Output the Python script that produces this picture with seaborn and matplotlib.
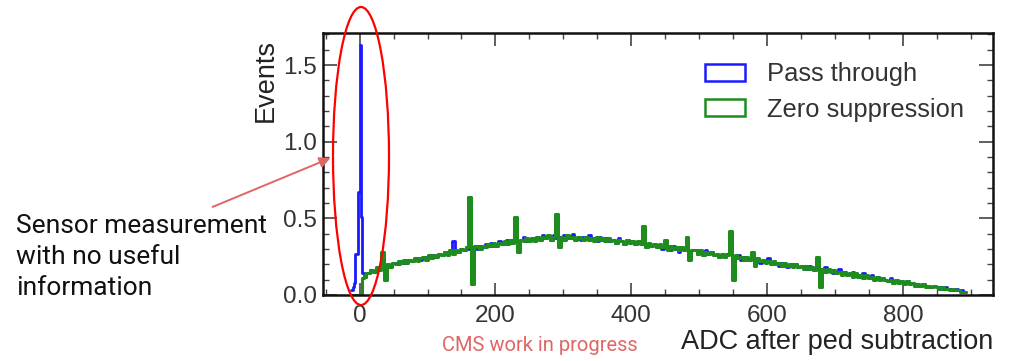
import numpy as np
import pandas as pd
import seaborn as sns
import matplotlib.pyplot as plt
from matplotlib.patches import Ellipse, Patch
from matplotlib.ticker import MultipleLocator

# bin edges in ADC: fine bins around the pedestal, then 4-ADC bins
edges_fine = np.arange(-12, 12, 2)
edges_wide = np.arange(12, 893, 4)

# events per bin
pass_fine = [0.03, 0.05, 0.08, 0.27, 0.27, 0.67, 1.63, 0.51, 0.14, 0.13, 0.12, 0.14]
zs_fine = [0, 0, 0, 0, 0, 0, 0, 0, 0.11, 0.13, 0.12, 0.14]

pass_wide = [
    0.14, 0.16, 0.15, 0.17, 0.18, 0.17, 0.19, 0.20, 0.19, 0.21,
    0.21, 0.20, 0.22, 0.21, 0.22, 0.23, 0.22, 0.23, 0.24, 0.23,
    0.24, 0.25, 0.24, 0.26, 0.25, 0.26, 0.27, 0.26, 0.28, 0.27,
    0.28, 0.35, 0.29, 0.28, 0.30, 0.29, 0.31, 0.30, 0.31, 0.32,
    0.30, 0.32, 0.31, 0.33, 0.32, 0.34, 0.32, 0.33, 0.35, 0.33,
    0.34, 0.36, 0.34, 0.35, 0.37, 0.34, 0.36, 0.38, 0.35, 0.36,
    0.37, 0.35, 0.38, 0.36, 0.39, 0.37, 0.38, 0.36, 0.39, 0.37,
    0.38, 0.36, 0.39, 0.37, 0.38, 0.40, 0.37, 0.38, 0.36, 0.38,
    0.37, 0.39, 0.36, 0.37, 0.35, 0.38, 0.36, 0.37, 0.35, 0.36,
    0.36, 0.34, 0.37, 0.35, 0.33, 0.36, 0.34, 0.35, 0.33, 0.34,
    0.34, 0.33, 0.31, 0.34, 0.32, 0.33, 0.31, 0.32, 0.30, 0.33,
    0.31, 0.29, 0.32, 0.30, 0.28, 0.31, 0.29, 0.30, 0.27, 0.29,
    0.29, 0.27, 0.28, 0.26, 0.29, 0.27, 0.28, 0.26, 0.27, 0.25,
    0.26, 0.25, 0.27, 0.38, 0.25, 0.24, 0.26, 0.23, 0.25, 0.24,
    0.23, 0.24, 0.22, 0.23, 0.21, 0.23, 0.22, 0.24, 0.21, 0.22,
    0.21, 0.19, 0.21, 0.20, 0.18, 0.20, 0.19, 0.20, 0.18, 0.19,
    0.18, 0.17, 0.19, 0.18, 0.16, 0.18, 0.17, 0.16, 0.18, 0.16,
    0.16, 0.14, 0.15, 0.17, 0.14, 0.15, 0.13, 0.14, 0.15, 0.13,
    0.13, 0.12, 0.14, 0.12, 0.11, 0.13, 0.11, 0.12, 0.10, 0.11,
    0.10, 0.09, 0.11, 0.09, 0.10, 0.08, 0.09, 0.08, 0.09, 0.07,
    0.08, 0.07, 0.07, 0.06, 0.07, 0.06, 0.06, 0.05, 0.06, 0.05,
    0.05, 0.04, 0.05, 0.04, 0.04, 0.03, 0.04, 0.03, 0.03, 0.02,
]
zs_wide = [
    0.14, 0.16, 0.15, 0.18, 0.16, 0.28, 0.10, 0.20, 0.18, 0.21,
    0.20, 0.22, 0.21, 0.23, 0.21, 0.23, 0.22, 0.24, 0.22, 0.24,
    0.25, 0.23, 0.26, 0.24, 0.26, 0.25, 0.27, 0.26, 0.28, 0.26,
    0.29, 0.27, 0.29, 0.28, 0.30, 0.29, 0.31, 0.64, 0.07, 0.31,
    0.32, 0.30, 0.32, 0.31, 0.33, 0.32, 0.34, 0.32, 0.34, 0.33,
    0.35, 0.33, 0.36, 0.34, 0.51, 0.28, 0.36, 0.35, 0.37, 0.35,
    0.37, 0.35, 0.38, 0.36, 0.38, 0.37, 0.39, 0.36, 0.38, 0.53,
    0.31, 0.38, 0.36, 0.39, 0.37, 0.38, 0.36, 0.38, 0.37, 0.36,
    0.38, 0.36, 0.37, 0.35, 0.38, 0.36, 0.37, 0.35, 0.37, 0.35,
    0.36, 0.34, 0.36, 0.35, 0.33, 0.36, 0.34, 0.35, 0.33, 0.35,
    0.33, 0.45, 0.31, 0.34, 0.32, 0.33, 0.31, 0.33, 0.31, 0.36,
    0.29, 0.32, 0.30, 0.31, 0.29, 0.31, 0.29, 0.38, 0.23, 0.29,
    0.29, 0.27, 0.29, 0.26, 0.28, 0.27, 0.28, 0.26, 0.27, 0.25,
    0.27, 0.25, 0.26, 0.42, 0.10, 0.26, 0.24, 0.25, 0.23, 0.25,
    0.23, 0.28, 0.19, 0.24, 0.22, 0.23, 0.21, 0.22, 0.20, 0.22,
    0.20, 0.21, 0.19, 0.21, 0.19, 0.20, 0.18, 0.20, 0.18, 0.19,
    0.17, 0.19, 0.17, 0.18, 0.16, 0.25, 0.05, 0.17, 0.15, 0.17,
    0.15, 0.16, 0.14, 0.15, 0.13, 0.15, 0.13, 0.14, 0.12, 0.14,
    0.12, 0.13, 0.11, 0.13, 0.11, 0.12, 0.10, 0.12, 0.10, 0.11,
    0.10, 0.09, 0.10, 0.08, 0.10, 0.08, 0.09, 0.07, 0.09, 0.07,
    0.08, 0.06, 0.07, 0.06, 0.07, 0.05, 0.06, 0.05, 0.06, 0.05,
    0.04, 0.05, 0.04, 0.04, 0.03, 0.04, 0.03, 0.03, 0.02, 0.02,
]

labels = ['Pass through', 'Zero suppression']
colors = ['#1a1aff', '#1e8c1e']

edges = np.concatenate([edges_fine, edges_wide])
centers = (edges[:-1] + edges[1:]) / 2
df = pd.DataFrame({
    'adc': np.concatenate([centers, centers]),
    'events': pass_fine + pass_wide + zs_fine + zs_wide,
    'mode': [labels[0]] * len(centers) + [labels[1]] * len(centers),
})

sns.set_style('ticks')
plt.rcParams['font.family'] = ['Liberation Sans', 'DejaVu Sans']

fig = plt.figure(figsize=(10.09, 3.61), dpi=100)
ax = fig.add_axes([0.320, 0.183, 0.664, 0.726])

for lab, col, lw in zip(labels, colors, [2.0, 2.2]):
    sub = df[df['mode'] == lab]
    sns.histplot(data=sub, x='adc', weights='events', bins=edges.tolist(), element='step',
                 fill=False, color=col, linewidth=lw, ax=ax)

ax.set_xlim(-54, 932)
ax.set_ylim(0, 1.71)
ax.xaxis.set_major_locator(MultipleLocator(200))
ax.xaxis.set_minor_locator(MultipleLocator(50))
ax.yaxis.set_major_locator(MultipleLocator(0.5))
ax.yaxis.set_minor_locator(MultipleLocator(0.1))
ax.tick_params(which='both', direction='in', top=True, right=True, colors='#444444',
               labelcolor='#333333', labelsize=17.5)
ax.tick_params(axis='x', which='major', length=9, width=1.2, pad=7)
ax.tick_params(axis='y', which='major', length=10, width=1.2, pad=4)
ax.tick_params(which='minor', length=4.5, width=1.0)
for sp in ax.spines.values():
    sp.set_linewidth(1.8)
    sp.set_color('#111111')

ax.set_xlabel('ADC after ped subtraction', fontsize=19.5, color='#222222', loc='right')
ax.xaxis.set_label_coords(1.0, -0.13)
ax.set_ylabel('Events', fontsize=19.5, color='#222222', loc='top')
ax.yaxis.set_label_coords(-0.066, 0.975)

handles = [Patch(facecolor='none', edgecolor=c, linewidth=1.8) for c in colors]
ax.legend(handles, labels, loc='upper left', bbox_to_anchor=(0.570, 0.888),
          frameon=False, fontsize=18.4, handlelength=1.56, handleheight=0.66,
          handletextpad=0.86, labelspacing=0.45, borderpad=0, borderaxespad=0,
          labelcolor='#333333')

# slide annotations
fig.add_artist(Ellipse((361 / 1009, 1 - 156 / 361), 56 / 1009, 298 / 361,
                       transform=fig.transFigure, fill=False, edgecolor='#ff0000',
                       linewidth=1.6, clip_on=False))
ax.annotate('', xy=(333, 361 - 157), xytext=(210, 361 - 208),
            xycoords='figure pixels', textcoords='figure pixels',
            arrowprops=dict(arrowstyle='-|>', color='#e06666', lw=1.4, mutation_scale=16),
            annotation_clip=False)
fig.text(16 / 1009, 1 - 257 / 361, 'Sensor measurement\nwith no useful\ninformation',
         family=['Roboto', 'DejaVu Sans'], fontsize=19, color='#111111',
         ha='left', va='center', linespacing=1.37)
fig.text(442 / 1009, 1 - 351 / 361, 'CMS work in progress', family=['Roboto', 'DejaVu Sans'],
         fontsize=14.5, color='#e06666', ha='left', va='baseline')

fig.savefig('out.png', dpi=100)
